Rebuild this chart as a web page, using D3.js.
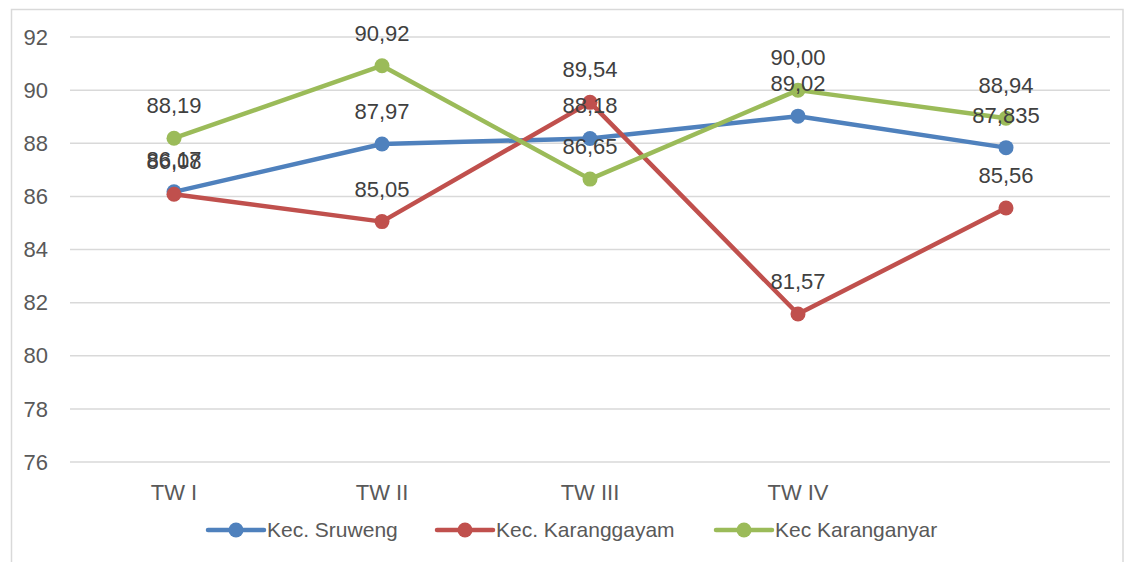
<!DOCTYPE html>
<html><head><meta charset="utf-8">
<script src="https://cdn.jsdelivr.net/npm/d3@7"></script>
<style>body{margin:0;background:#fff}svg{display:block}text{font-family:"Liberation Sans",Arial,sans-serif;fill:#595959}</style>
</head><body><svg id="c" width="1127" height="562"></svg>
<script>
const categories = ["TW I", "TW II", "TW III", "TW IV", ""];
const seriesNames = ["Kec. Sruweng", "Kec. Karanggayam", "Kec Karanganyar"];
const sruweng = [86.17, 87.97, 88.18, 89.02, 87.835];
const karanggayam = [86.08, 85.05, 89.54, 81.57, 85.56];
const karanganyar = [88.19, 90.92, 86.65, 90.00, 88.94];
const labelsSruweng = ["86,17", "87,97", "88,18", "89,02", "87,835"];
const labelsKaranggayam = ["86,08", "85,05", "89,54", "81,57", "85,56"];
const labelsKaranganyar = ["88,19", "90,92", "86,65", "90,00", "88,94"];
const yTicks = [76, 78, 80, 82, 84, 86, 88, 90, 92];
const colors = ["#4F81BD", "#C0504D", "#9BBB59"];

const series = [
  {name: seriesNames[0], values: sruweng, labels: labelsSruweng, color: colors[0]},
  {name: seriesNames[1], values: karanggayam, labels: labelsKaranggayam, color: colors[1]},
  {name: seriesNames[2], values: karanganyar, labels: labelsKaranganyar, color: colors[2]}
];

const svg = d3.select("#c");
svg.append("rect").attr("x", 11.5).attr("y", 9.5).attr("width", 1111.5).attr("height", 600)
  .attr("fill", "none").attr("stroke", "#d9d9d9").attr("stroke-width", 1.5);

const x = d3.scaleBand().domain(d3.range(categories.length)).range([70, 1110]);
const y = d3.scaleLinear().domain([76, 92]).range([462, 37]);
const cx = i => x(i) + x.bandwidth() / 2;

const g = svg.append("g");
// gridlines
g.selectAll(".grid").data(yTicks).join("line")
  .attr("x1", 70).attr("x2", 1110).attr("y1", d => y(d)).attr("y2", d => y(d))
  .attr("stroke", "#d9d9d9").attr("stroke-width", 1.5);
// y tick labels
g.selectAll(".yt").data(yTicks).join("text")
  .attr("x", 48).attr("y", d => y(d)).attr("dy", "0.35em").attr("text-anchor", "end")
  .attr("font-size", 22).text(d => d);
// x labels
g.selectAll(".xt").data(categories).join("text")
  .attr("x", (d, i) => cx(i)).attr("y", 500).attr("text-anchor", "middle")
  .attr("font-size", 22).text(d => d);

const line = d3.line().x((d, i) => cx(i)).y(d => y(d));
series.forEach(s => {
  g.append("path").datum(s.values).attr("d", line).attr("fill", "none")
    .attr("stroke", s.color).attr("stroke-width", 4.5).attr("stroke-linejoin", "round").attr("stroke-linecap", "round");
  g.selectAll(null).data(s.values).join("circle")
    .attr("cx", (d, i) => cx(i)).attr("cy", d => y(d)).attr("r", 7.5).attr("fill", s.color);
});
series.forEach(s => {
  g.selectAll(null).data(s.values).join("text")
    .attr("x", (d, i) => cx(i)).attr("y", d => y(d) - 25).attr("text-anchor", "middle")
    .attr("font-size", 22).attr("fill", "#404040").style("fill", "#404040")
    .text((d, i) => s.labels[i]);
});

// legend
const legendX = [208, 437, 716];
series.forEach((s, k) => {
  const lg = svg.append("g").attr("transform", `translate(${legendX[k]},530)`);
  lg.append("line").attr("x1", 0).attr("x2", 56).attr("y1", 0).attr("y2", 0)
    .attr("stroke", s.color).attr("stroke-width", 4.5).attr("stroke-linecap", "round");
  lg.append("circle").attr("cx", 28).attr("cy", 0).attr("r", 7.5).attr("fill", s.color);
  lg.append("text").attr("x", 59).attr("y", 0).attr("dy", "0.35em").attr("font-size", 21).text(s.name);
});
</script></body></html>
